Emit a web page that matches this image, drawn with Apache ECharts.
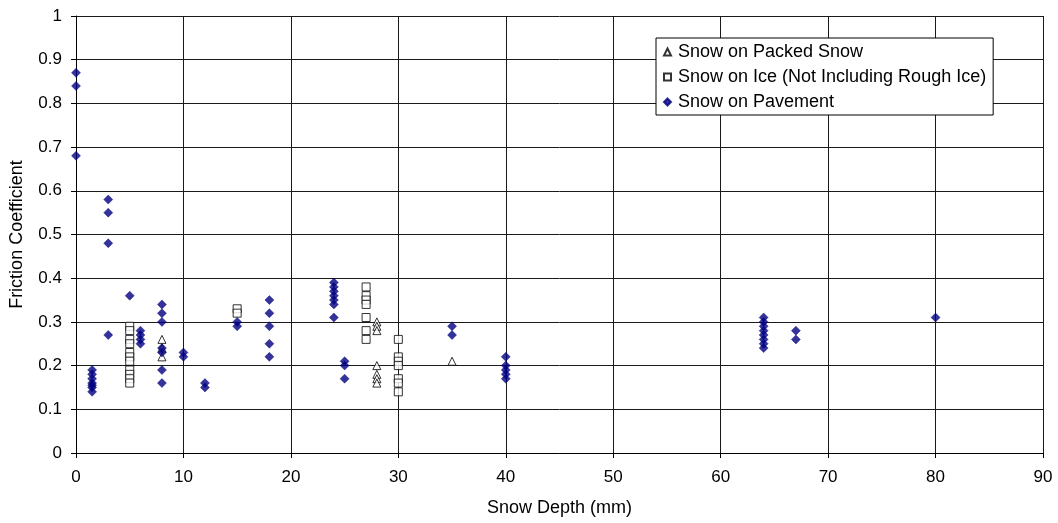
<!DOCTYPE html>
<html>
<head>
<meta charset="utf-8">
<script src="https://cdn.jsdelivr.net/npm/echarts@6/dist/echarts.min.js"></script>
<style>
  html, body { margin: 0; padding: 0; background: #fff; }
  #chart { width: 1058px; height: 523px; }
</style>
</head>
<body>
<div id="chart"></div>
<script>
// Snow depth (mm) and friction coefficient pairs for each surface type
const packedSnowDepth = [8, 8, 8, 28, 28, 28, 28, 28, 28, 28, 35];
const packedSnowFriction = [0.26, 0.24, 0.22, 0.30, 0.29, 0.28, 0.20, 0.18, 0.17, 0.16, 0.21];

const iceDepth = [5, 5, 5, 5, 5, 5, 5, 5, 5, 5, 5,
                  15, 15,
                  27, 27, 27, 27, 27, 27, 27,
                  30, 30, 30, 30, 30, 30, 30];
const iceFriction = [0.29, 0.28, 0.26, 0.25, 0.23, 0.22, 0.21, 0.19, 0.18, 0.17, 0.16,
                     0.33, 0.32,
                     0.38, 0.36, 0.35, 0.34, 0.31, 0.28, 0.26,
                     0.26, 0.22, 0.21, 0.20, 0.17, 0.16, 0.14];

const pavementDepth = [0, 0, 0,
                       1.5, 1.5, 1.5, 1.5, 1.5, 1.5, 1.5,
                       3, 3, 3, 3,
                       5,
                       6, 6, 6, 6,
                       8, 8, 8, 8, 8, 8, 8,
                       10, 10,
                       12, 12,
                       15, 15,
                       18, 18, 18, 18, 18,
                       24, 24, 24, 24, 24, 24, 24,
                       25, 25, 25,
                       35, 35,
                       40, 40, 40, 40, 40,
                       64, 64, 64, 64, 64, 64, 64, 64,
                       67, 67,
                       80];
const pavementFriction = [0.87, 0.84, 0.68,
                          0.19, 0.18, 0.17, 0.16, 0.155, 0.15, 0.14,
                          0.58, 0.55, 0.48, 0.27,
                          0.36,
                          0.28, 0.27, 0.26, 0.25,
                          0.34, 0.32, 0.30, 0.24, 0.23, 0.19, 0.16,
                          0.23, 0.22,
                          0.16, 0.15,
                          0.30, 0.29,
                          0.35, 0.32, 0.29, 0.25, 0.22,
                          0.39, 0.38, 0.37, 0.36, 0.35, 0.34, 0.31,
                          0.21, 0.20, 0.17,
                          0.29, 0.27,
                          0.22, 0.20, 0.19, 0.18, 0.17,
                          0.31, 0.30, 0.29, 0.28, 0.27, 0.26, 0.25, 0.24,
                          0.28, 0.26,
                          0.31];

const seriesNames = ['Snow on Packed Snow', 'Snow on Ice (Not Including Rough Ice)', 'Snow on Pavement'];

function pairs(xs, ys) {
  return xs.map((x, i) => [x, ys[i]]);
}

const font = 'Liberation Sans, Arial, sans-serif';
const gridColor = '#1a1a1a';
const chart = echarts.init(document.getElementById('chart'), null, { renderer: 'canvas' });

chart.setOption({
  animation: false,
  backgroundColor: '#ffffff',
  grid: { left: 75, right: 15, top: 16, bottom: 70, containLabel: false },
  xAxis: {
    type: 'value',
    min: 0, max: 90, interval: 10,
    name: 'Snow Depth (mm)',
    nameLocation: 'middle',
    nameGap: 46,
    nameTextStyle: { fontFamily: font, fontSize: 18, color: '#000' },
    axisLine: { show: true, onZero: false, lineStyle: { color: '#000', width: 1 } },
    axisTick: { show: true, length: 5, inside: false, lineStyle: { color: '#000' } },
    axisLabel: { fontFamily: font, fontSize: 17, color: '#000', margin: 16 },
    splitLine: { show: true, lineStyle: { color: gridColor, width: 1 } }
  },
  yAxis: {
    type: 'value',
    min: 0, max: 1, interval: 0.1,
    name: 'Friction Coefficient',
    nameLocation: 'middle',
    nameGap: 50,
    nameTextStyle: { fontFamily: font, fontSize: 18, color: '#000' },
    axisLine: { show: true, onZero: false, lineStyle: { color: '#000', width: 1 } },
    axisTick: { show: true, length: 5, inside: false, lineStyle: { color: '#000' } },
    axisLabel: {
      fontFamily: font, fontSize: 17, color: '#000', margin: 14,
      formatter: v => String(Math.round(v * 10) / 10)
    },
    splitLine: { show: true, lineStyle: { color: gridColor, width: 1 } }
  },
  legend: {
    orient: 'vertical',
    left: 656, top: 38,
    padding: [5, 7, 4, 7],
    itemGap: 7,
    itemWidth: 7, itemHeight: 7,
    backgroundColor: '#ffffff',
    borderColor: '#000',
    borderWidth: 1,
    borderRadius: 0,
    textStyle: { fontFamily: font, fontSize: 18, color: '#000', padding: [0, 0, 0, 2] },
    data: seriesNames
  },
  series: [
    {
      name: seriesNames[0],
      type: 'scatter',
      z: 3,
      symbol: 'triangle',
      symbolSize: 8,
      itemStyle: { color: '#ffffff', borderColor: '#000', borderWidth: 1 },
      data: pairs(packedSnowDepth, packedSnowFriction)
    },
    {
      name: seriesNames[1],
      type: 'scatter',
      z: 3,
      symbol: 'rect',
      symbolSize: 8,
      itemStyle: { color: '#ffffff', borderColor: '#000', borderWidth: 1 },
      data: pairs(iceDepth, iceFriction)
    },
    {
      name: seriesNames[2],
      type: 'scatter',
      z: 4,
      symbol: 'diamond',
      symbolSize: [9, 9],
      itemStyle: { color: '#000080', borderColor: '#000080', borderWidth: 0.5 },
      data: pairs(pavementDepth, pavementFriction)
    }
  ]
});
</script>
</body>
</html>
